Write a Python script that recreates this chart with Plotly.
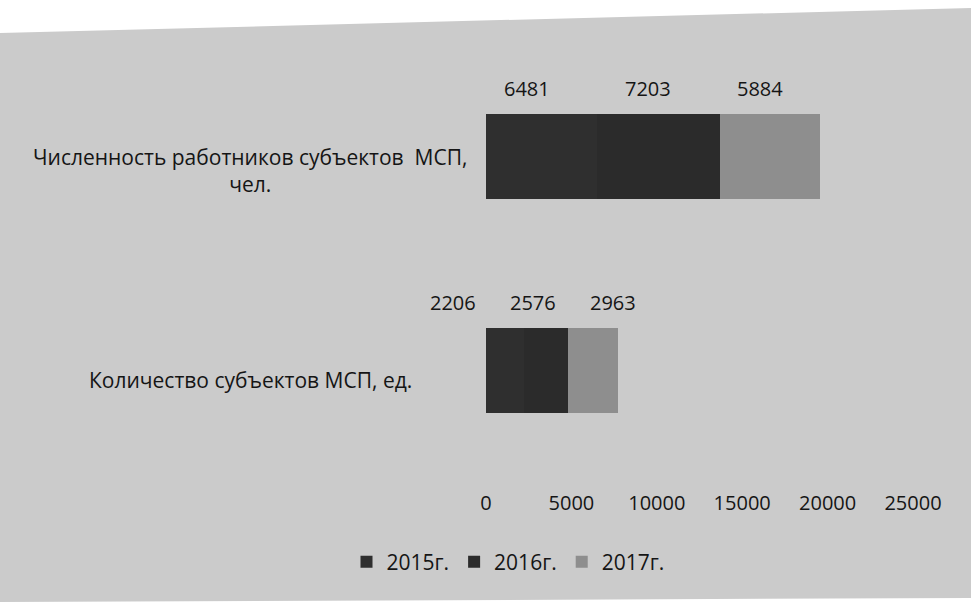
import plotly.graph_objects as go

# data
categories = ["Количество субъектов МСП, ед.",
              "Численность работников субъектов  МСП, чел."]
category_text = ["Количество субъектов МСП, ед.",
                 "Численность работников субъектов  МСП,<br>чел."]
years = ["2015г.", "2016г.", "2017г."]
values = {
    "2015г.": [2206, 6481],
    "2016г.": [2576, 7203],
    "2017г.": [2963, 5884],
}
x_ticks = [0, 5000, 10000, 15000, 20000, 25000]
x_tick_text = ["0", "5000", "10000", "15000", "20000", "25000"]

# style / layout
colors = {"2015г.": "#2f2f2f", "2016г.": "#2b2b2b", "2017г.": "#8e8e8e"}
X_MAX = 25000
# where the value labels sit (x in axis units, they were dragged above the bars)
label_x = {
    "2015г.": [-1930, 2400],
    "2016г.": [2750, 9470],
    "2017г.": [7430, 16020],
}
cat_shift = [-10, -14]  # the scan is slightly tilted
W, H = 971, 608
L, R, T, B = 486, 58, 50, 131
FONT = "Open Sans"
TXT = "#151515"
BG = "#cbcbcb"

pw, ph = W - L - R, H - T - B


def px(xp):
    return (xp - L) / pw


def py(yp):
    return (H - B - yp) / ph


fig = go.Figure()
for yr in years:
    fig.add_trace(go.Bar(
        y=categories, x=values[yr], name=yr, orientation="h",
        marker=dict(color=colors[yr], line=dict(width=0)),
        hovertemplate=f"%{{y}}<br>{yr}: %{{x}}<extra></extra>",
    ))

annotations = []
for yr in years:
    for cat, v, lx in zip(categories, values[yr], label_x[yr]):
        annotations.append(dict(
            x=lx / X_MAX, y=cat, xref="paper", yref="y", text=str(v), showarrow=False,
            xanchor="center", yshift=68, font=dict(family=FONT, size=20, color=TXT),
        ))
for cat, txt, sh in zip(categories, category_text, cat_shift):
    annotations.append(dict(
        x=px(250), y=cat, xref="paper", yref="y", text=txt, showarrow=False,
        xanchor="center", align="center", yshift=sh,
        font=dict(family=FONT, size=21, color=TXT),
    ))

# white scan margins outside the paper sheet
shapes = [
    dict(type="path", xref="paper", yref="paper", layer="above", line=dict(width=0),
         fillcolor="white",
         path=f"M {px(0)} {py(0)} L {px(W)} {py(0)} L {px(W)} {py(8)} L {px(0)} {py(33)} Z"),
    dict(type="path", xref="paper", yref="paper", layer="above", line=dict(width=0),
         fillcolor="white",
         path=f"M {px(0)} {py(602)} L {px(W)} {py(598)} L {px(W)} {py(H)} L {px(0)} {py(H)} Z"),
]

fig.update_layout(
    width=W, height=H, barmode="stack", bargap=0.6,
    margin=dict(l=L, r=R, t=T, b=B),
    paper_bgcolor=BG, plot_bgcolor=BG,
    font=dict(family=FONT, size=20, color=TXT),
    xaxis=dict(range=[0, X_MAX], tickvals=x_ticks, ticktext=x_tick_text,
               showgrid=False, showline=False, zeroline=False, ticks="",
               ticklabelstandoff=12, tickfont=dict(family=FONT, size=20, color=TXT)),
    yaxis=dict(range=[-0.5, 1.5], showticklabels=False, showgrid=False,
               showline=False, zeroline=False, ticks=""),
    legend=dict(orientation="h", x=px(508), xanchor="center", y=py(562),
                yanchor="middle", font=dict(family=FONT, size=21, color=TXT),
                itemwidth=30, traceorder="normal", bgcolor="rgba(0,0,0,0)"),
    annotations=annotations, shapes=shapes,
)

# the page's default body margin would shift the figure by 8px
fig.write_html("out.html", config={"displayModeBar": False},
               post_script="document.body.style.margin='0';")
